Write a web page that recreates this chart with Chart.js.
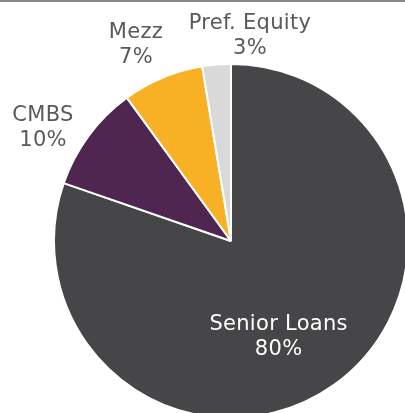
<!DOCTYPE html>
<html>
<head>
<meta charset="utf-8">
<script src="https://cdn.jsdelivr.net/npm/chart.js@4.4.1/dist/chart.umd.min.js"></script>
<style>
  html, body { margin: 0; padding: 0; background: #ffffff; overflow: hidden; }
  #wrap { position: relative; width: 405px; height: 413px; }
  #topline { position: absolute; left: 0; top: 0; width: 405px; height: 2px; background: #878787; z-index: 2; }
  canvas { position: absolute; left: 0; top: 0; }
</style>
</head>
<body>
<div id="wrap">
  <div id="topline"></div>
  <canvas id="c" width="405" height="413"></canvas>
</div>
<script>
const categories = ["Senior Loans", "CMBS", "Mezz", "Pref. Equity"];
const shares = [80.3, 9.7, 7.4, 2.6];
const colors = ["#464648", "#4F2650", "#F8B124", "#D9D9D9"];

// label anchors in units of the pie radius, relative to the pie centre
const labelAnchors = [[0.269, 0.529], [-1.062, -0.650], [-0.537, -1.121], [0.107, -1.175]];
const labelColors = ["#ffffff", "#595959", "#595959", "#595959"];

const labelPlugin = {
  id: 'pieLabels',
  afterDatasetsDraw(chart) {
    const ctx = chart.ctx;
    const meta = chart.getDatasetMeta(0);
    const total = shares.reduce((a, b) => a + b, 0);
    ctx.save();
    ctx.font = '21px "DejaVu Sans"';
    if ('letterSpacing' in ctx) ctx.letterSpacing = '0.3px';
    ctx.textAlign = 'center';
    ctx.textBaseline = 'alphabetic';
    meta.data.forEach((arc, i) => {
      const R = arc.outerRadius;
      const ax = arc.x + labelAnchors[i][0] * R;
      const ay = arc.y + labelAnchors[i][1] * R;
      ctx.fillStyle = labelColors[i];
      ctx.fillText(categories[i], ax, ay - 4.5);
      ctx.fillText(Math.round(shares[i] / total * 100) + '%', ax, ay + 20.5);
    });
    ctx.restore();
  }
};

new Chart(document.getElementById('c'), {
  type: 'pie',
  data: {
    labels: categories,
    datasets: [{
      data: shares,
      backgroundColor: colors,
      borderColor: '#ffffff',
      borderWidth: 2,
      clip: false
    }]
  },
  options: {
    responsive: false,
    animation: false,
    radius: 177,
    layout: { padding: { left: 57, right: 0, top: 69, bottom: 0 } },
    plugins: {
      legend: { display: false },
      tooltip: { enabled: false }
    }
  },
  plugins: [labelPlugin]
});
</script>
</body>
</html>
